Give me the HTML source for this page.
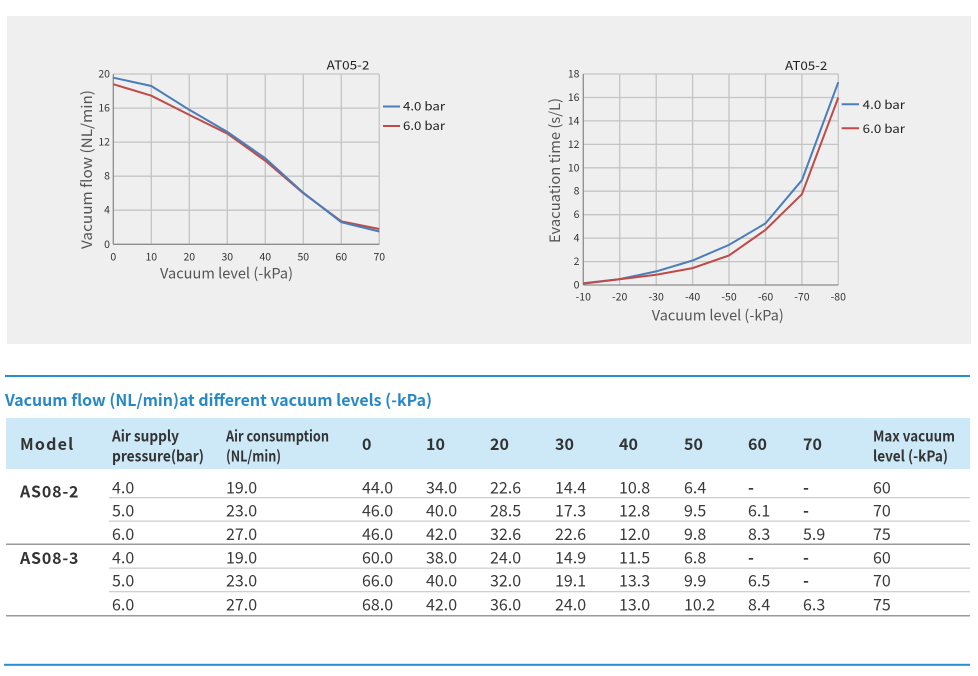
<!DOCTYPE html>
<html><head><meta charset="utf-8"><style>
html,body{margin:0;padding:0;background:#fff;}
svg{display:block;}
text{font-family:"Noto Sans CJK SC","Liberation Sans",sans-serif;}
</style></head><body>
<svg width="978" height="676" viewBox="0 0 978 676" xmlns="http://www.w3.org/2000/svg">
<rect x="0" y="0" width="978" height="676" fill="#fff"/>
<rect x="7" y="16" width="964" height="328" fill="#efefef"/>

<!-- Chart 1 -->
<g stroke="#c4c4c4" stroke-width="1.3" fill="none">
<line x1="151.3" y1="74" x2="151.3" y2="244.3"/><line x1="189.3" y1="74" x2="189.3" y2="244.3"/>
<line x1="227.3" y1="74" x2="227.3" y2="244.3"/><line x1="265.3" y1="74" x2="265.3" y2="244.3"/>
<line x1="303.3" y1="74" x2="303.3" y2="244.3"/><line x1="341.3" y1="74" x2="341.3" y2="244.3"/>
<line x1="379.3" y1="74" x2="379.3" y2="244.3"/>
<line x1="113.3" y1="74" x2="379.3" y2="74"/><line x1="113.3" y1="108.1" x2="379.3" y2="108.1"/>
<line x1="113.3" y1="142.1" x2="379.3" y2="142.1"/><line x1="113.3" y1="176.2" x2="379.3" y2="176.2"/>
<line x1="113.3" y1="210.2" x2="379.3" y2="210.2"/>
</g>
<g stroke="#8c8c8c" stroke-width="1.3"><line x1="113.3" y1="74" x2="113.3" y2="244.3"/><line x1="113.3" y1="244.3" x2="379.3" y2="244.3"/></g>
<polyline fill="none" stroke="#be4b48" stroke-width="2" points="113.3,84.2 151.3,95.7 189.3,114.9 227.3,133.6 265.3,160.8 303.3,193.2 341.3,221.3 379.3,229"/>
<polyline fill="none" stroke="#4a7ebb" stroke-width="2" points="113.3,77.7 151.3,86 189.3,109.8 227.3,131.9 265.3,158.3 303.3,192.7 341.3,222.2 379.3,231.5"/>
<g font-size="10.5" fill="#333" text-anchor="end">
<text x="110" y="77.5">20</text><text x="110" y="111.6">16</text><text x="110" y="145.6">12</text>
<text x="110" y="179.7">8</text><text x="110" y="213.7">4</text><text x="110" y="247.8">0</text>
</g>
<g font-size="10.5" fill="#333" text-anchor="middle">
<text x="113.3" y="260.7">0</text><text x="151.3" y="260.7">10</text><text x="189.3" y="260.7">20</text>
<text x="227.3" y="260.7">30</text><text x="265.3" y="260.7">40</text><text x="303.3" y="260.7">50</text>
<text x="341.3" y="260.7">60</text><text x="379.3" y="260.7">70</text>
</g>
<text x="326.7" y="69.5" font-size="12" fill="#222" textLength="42.7" lengthAdjust="spacingAndGlyphs">AT05-2</text>
<line x1="383" y1="106.5" x2="400" y2="106.5" stroke="#4a7ebb" stroke-width="2"/>
<line x1="383" y1="126" x2="400" y2="126" stroke="#be4b48" stroke-width="2"/>
<text x="403" y="110.5" font-size="12" fill="#222" textLength="42" lengthAdjust="spacingAndGlyphs">4.0 bar</text>
<text x="403" y="130" font-size="12" fill="#222" textLength="42" lengthAdjust="spacingAndGlyphs">6.0 bar</text>
<text x="160" y="278.5" font-size="14.5" fill="#555" textLength="133" lengthAdjust="spacingAndGlyphs">Vacuum level (-kPa)</text>
<text transform="translate(92,169.5) rotate(-90)" x="0" y="0" font-size="14.5" fill="#555" text-anchor="middle" textLength="159" lengthAdjust="spacingAndGlyphs">Vacuum flow (NL/min)</text>

<!-- Chart 2 -->
<g stroke="#c4c4c4" stroke-width="1.3" fill="none">
<line x1="619.7" y1="74" x2="619.7" y2="285"/><line x1="656.2" y1="74" x2="656.2" y2="285"/>
<line x1="692.6" y1="74" x2="692.6" y2="285"/><line x1="729" y1="74" x2="729" y2="285"/>
<line x1="765.5" y1="74" x2="765.5" y2="285"/><line x1="801.9" y1="74" x2="801.9" y2="285"/>
<line x1="838.3" y1="74" x2="838.3" y2="285"/>
<line x1="583.3" y1="74" x2="838.3" y2="74"/><line x1="583.3" y1="97.5" x2="838.3" y2="97.5"/>
<line x1="583.3" y1="120.9" x2="838.3" y2="120.9"/><line x1="583.3" y1="144.4" x2="838.3" y2="144.4"/>
<line x1="583.3" y1="167.8" x2="838.3" y2="167.8"/><line x1="583.3" y1="191.2" x2="838.3" y2="191.2"/>
<line x1="583.3" y1="214.7" x2="838.3" y2="214.7"/><line x1="583.3" y1="238.1" x2="838.3" y2="238.1"/>
<line x1="583.3" y1="261.6" x2="838.3" y2="261.6"/>
</g>
<g stroke="#8c8c8c" stroke-width="1.3"><line x1="583.3" y1="74" x2="583.3" y2="285"/><line x1="583.3" y1="285" x2="838.3" y2="285"/></g>
<polyline fill="none" stroke="#4a7ebb" stroke-width="2" points="583.3,283.2 619.7,279.1 656.2,271.4 692.6,260.5 729,244.9 765.5,223.4 801.9,180.2 838.3,82.2"/>
<polyline fill="none" stroke="#be4b48" stroke-width="2" points="583.3,283.6 619.7,279.3 656.2,274.7 692.6,268.1 729,255.5 765.5,229.9 801.9,194.2 838.3,97.5"/>
<g font-size="10.5" fill="#333" text-anchor="end">
<text x="579.5" y="77.5">18</text><text x="579.5" y="101">16</text><text x="579.5" y="124.4">14</text>
<text x="579.5" y="147.9">12</text><text x="579.5" y="171.3">10</text><text x="579.5" y="194.7">8</text>
<text x="579.5" y="218.2">6</text><text x="579.5" y="241.6">4</text><text x="579.5" y="265.1">2</text>
<text x="579.5" y="288.5">0</text>
</g>
<g font-size="10.5" fill="#333" text-anchor="middle">
<text x="583.3" y="300.7">-10</text><text x="619.7" y="300.7">-20</text><text x="656.2" y="300.7">-30</text>
<text x="692.6" y="300.7">-40</text><text x="729" y="300.7">-50</text><text x="765.5" y="300.7">-60</text>
<text x="801.9" y="300.7">-70</text><text x="838.3" y="300.7">-80</text>
</g>
<text x="785" y="70" font-size="12" fill="#222" textLength="42.3" lengthAdjust="spacingAndGlyphs">AT05-2</text>
<line x1="841.7" y1="104.3" x2="859" y2="104.3" stroke="#4a7ebb" stroke-width="2"/>
<line x1="841.7" y1="128.3" x2="859" y2="128.3" stroke="#be4b48" stroke-width="2"/>
<text x="862.7" y="109" font-size="12" fill="#222" textLength="42.3" lengthAdjust="spacingAndGlyphs">4.0 bar</text>
<text x="862.7" y="133" font-size="12" fill="#222" textLength="42.3" lengthAdjust="spacingAndGlyphs">6.0 bar</text>
<text x="651.8" y="320.5" font-size="14.5" fill="#555" textLength="132" lengthAdjust="spacingAndGlyphs">Vacuum level (-kPa)</text>
<text transform="translate(560,170.5) rotate(-90)" x="0" y="0" font-size="14.5" fill="#555" text-anchor="middle" textLength="145" lengthAdjust="spacingAndGlyphs">Evacuation time (s/L)</text>

<!-- Table section -->
<rect x="5" y="375" width="965" height="2" fill="#2a8fcc"/>
<text x="5" y="406" font-size="16" font-weight="bold" fill="#2589c8" textLength="427" lengthAdjust="spacingAndGlyphs">Vacuum flow (NL/min)at different vacuum levels (-kPa)</text>
<rect x="6" y="418" width="964" height="51" fill="#cde9f7"/>
<g fill="#333">
<text x="20" y="450" font-size="16" font-weight="bold" letter-spacing="1.2">Model</text>
<text x="112" y="441.7" font-size="15" font-weight="bold" textLength="67" lengthAdjust="spacingAndGlyphs">Air supply</text>
<text x="112" y="461.7" font-size="15" font-weight="bold" textLength="92" lengthAdjust="spacingAndGlyphs">pressure(bar)</text>
<text x="226" y="441.7" font-size="15" font-weight="bold" textLength="103" lengthAdjust="spacingAndGlyphs">Air consumption</text>
<text x="226" y="461.7" font-size="15" font-weight="bold" textLength="55" lengthAdjust="spacingAndGlyphs">(NL/min)</text>
<g font-size="16" font-weight="bold">
<text x="362" y="450">0</text><text x="426" y="450">10</text><text x="490" y="450">20</text>
<text x="555" y="450">30</text><text x="619" y="450">40</text><text x="684" y="450">50</text>
<text x="748" y="450">60</text><text x="803" y="450">70</text>
</g>
<text x="873" y="441.7" font-size="15" font-weight="bold" textLength="82" lengthAdjust="spacingAndGlyphs">Max vacuum</text>
<text x="873" y="461.7" font-size="15" font-weight="bold" textLength="75" lengthAdjust="spacingAndGlyphs">level (-kPa)</text>
</g>

<g fill="#333" font-size="16" font-weight="bold" letter-spacing="0.8">
<text x="20" y="497.5">AS08-2</text>
<text x="20" y="564">AS08-3</text>
</g>

<g fill="#3a3a3a" font-size="16">
<g transform="translate(0,493.3)">
<text x="112">4.0</text><text x="226">19.0</text><text x="362">44.0</text><text x="426">34.0</text><text x="490">22.6</text><text x="555">14.4</text><text x="619">10.8</text><text x="684">6.4</text><text x="748" font-weight="bold">-</text><text x="803" font-weight="bold">-</text><text x="873">60</text>
</g>
<g transform="translate(0,516.7)">
<text x="112">5.0</text><text x="226">23.0</text><text x="362">46.0</text><text x="426">40.0</text><text x="490">28.5</text><text x="555">17.3</text><text x="619">12.8</text><text x="684">9.5</text><text x="748">6.1</text><text x="803" font-weight="bold">-</text><text x="873">70</text>
</g>
<g transform="translate(0,540)">
<text x="112">6.0</text><text x="226">27.0</text><text x="362">46.0</text><text x="426">42.0</text><text x="490">32.6</text><text x="555">22.6</text><text x="619">12.0</text><text x="684">9.8</text><text x="748">8.3</text><text x="803">5.9</text><text x="873">75</text>
</g>
<g transform="translate(0,563.3)">
<text x="112">4.0</text><text x="226">19.0</text><text x="362">60.0</text><text x="426">38.0</text><text x="490">24.0</text><text x="555">14.9</text><text x="619">11.5</text><text x="684">6.8</text><text x="748" font-weight="bold">-</text><text x="803" font-weight="bold">-</text><text x="873">60</text>
</g>
<g transform="translate(0,586.7)">
<text x="112">5.0</text><text x="226">23.0</text><text x="362">66.0</text><text x="426">40.0</text><text x="490">32.0</text><text x="555">19.1</text><text x="619">13.3</text><text x="684">9.9</text><text x="748">6.5</text><text x="803" font-weight="bold">-</text><text x="873">70</text>
</g>
<g transform="translate(0,610.5)">
<text x="112">6.0</text><text x="226">27.0</text><text x="362">68.0</text><text x="426">42.0</text><text x="490">36.0</text><text x="555">24.0</text><text x="619">13.0</text><text x="684">10.2</text><text x="748">8.4</text><text x="803">6.3</text><text x="873">75</text>
</g>
</g>

<g fill="#cfcfcf">
<rect x="109" y="497" width="861" height="1.3"/>
<rect x="109" y="520.5" width="861" height="1.3"/>
<rect x="109" y="567.5" width="861" height="1.3"/>
<rect x="109" y="591" width="861" height="1.3"/>
</g>
<g fill="#9a9a9a">
<rect x="6" y="543.5" width="964" height="1.5"/>
<rect x="6" y="615" width="964" height="1.5"/>
</g>
<rect x="4" y="663.8" width="966" height="2" fill="#2a8fcc"/>
</svg>
</body></html>
